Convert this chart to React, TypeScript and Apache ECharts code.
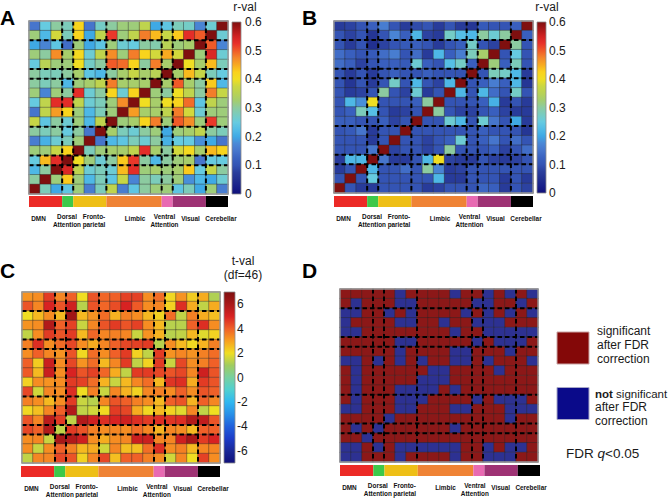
import React, { useEffect, useRef } from 'react';
import * as echarts from 'echarts';

// ---------- data ----------
const REGIONS = ['R1','R2','R3','R4','R5','R6','R7','R8','R9','R10','R11','R12','R13','R14','R15','R16','R17','R18'];

const NETWORK_NAMES = ['DMN', 'Dorsal\nAttention', 'Fronto-\nparietal', 'Limbic', 'Ventral\nAttention', 'Visual', 'Cerebellar'];
const NETWORK_SIZES = [3, 1, 3, 5, 1, 3, 2];
const NETWORK_COLORS = ['#ec2a26', '#3dc84a', '#eebf16', '#ef8335', '#e86ab2', '#9e3274', '#000000'];

const R_RANGE = [0, 0.6];
const T_RANGE = [-7, 7];
const T_TICKS = [-6, -4, -2, 0, 2, 4, 6];

// rows listed top (region 18) to bottom (region 1), columns region 1..18
const A_ROWS = [
  [0.15,0.25,0.30,0.28,0.42,0.15,0.27,0.30,0.32,0.32,0.36,0.20,0.24,0.28,0.27,0.17,0.26,0.60],
  [0.32,0.22,0.38,0.28,0.42,0.20,0.36,0.52,0.32,0.36,0.48,0.44,0.37,0.43,0.53,0.50,0.60,0.26],
  [0.20,0.17,0.24,0.14,0.32,0.20,0.24,0.32,0.26,0.25,0.30,0.29,0.35,0.32,0.33,0.60,0.50,0.17],
  [0.32,0.30,0.47,0.33,0.41,0.26,0.36,0.47,0.32,0.48,0.42,0.38,0.45,0.38,0.60,0.32,0.54,0.26],
  [0.25,0.35,0.32,0.32,0.40,0.27,0.30,0.50,0.49,0.42,0.30,0.48,0.33,0.60,0.40,0.33,0.44,0.28],
  [0.30,0.28,0.28,0.30,0.33,0.24,0.22,0.30,0.33,0.37,0.33,0.35,0.60,0.33,0.44,0.37,0.28,0.25],
  [0.30,0.28,0.30,0.22,0.32,0.33,0.36,0.48,0.33,0.33,0.33,0.60,0.33,0.50,0.33,0.30,0.43,0.22],
  [0.32,0.17,0.32,0.30,0.53,0.26,0.30,0.42,0.26,0.42,0.60,0.32,0.30,0.40,0.36,0.30,0.48,0.37],
  [0.25,0.36,0.53,0.53,0.36,0.26,0.28,0.32,0.47,0.60,0.40,0.33,0.40,0.42,0.49,0.24,0.36,0.32],
  [0.15,0.36,0.46,0.42,0.32,0.22,0.28,0.32,0.60,0.46,0.33,0.33,0.36,0.48,0.38,0.26,0.32,0.32],
  [0.37,0.24,0.30,0.26,0.32,0.22,0.36,0.60,0.32,0.33,0.42,0.48,0.32,0.50,0.47,0.32,0.52,0.32],
  [0.30,0.28,0.30,0.25,0.30,0.15,0.60,0.33,0.28,0.26,0.30,0.32,0.20,0.32,0.33,0.36,0.30,0.28],
  [0.16,0.21,0.26,0.28,0.32,0.60,0.15,0.22,0.24,0.28,0.26,0.30,0.21,0.25,0.25,0.18,0.20,0.15],
  [0.32,0.32,0.37,0.42,0.60,0.28,0.32,0.33,0.33,0.36,0.53,0.33,0.30,0.38,0.41,0.33,0.44,0.42],
  [0.25,0.44,0.53,0.60,0.40,0.32,0.26,0.30,0.43,0.52,0.30,0.22,0.30,0.32,0.33,0.15,0.25,0.25],
  [0.22,0.30,0.60,0.54,0.36,0.26,0.28,0.26,0.44,0.53,0.32,0.33,0.32,0.33,0.43,0.25,0.37,0.30],
  [0.30,0.60,0.32,0.43,0.32,0.22,0.28,0.24,0.37,0.17,0.30,0.28,0.30,0.32,0.18,0.22,0.20,0.26],
  [0.60,0.28,0.20,0.24,0.32,0.16,0.28,0.36,0.16,0.24,0.30,0.32,0.32,0.24,0.28,0.20,0.32,0.16],
];

const B_ROWS = [
  [0.07,0.08,0.10,0.12,0.16,0.10,0.07,0.09,0.10,0.07,0.10,0.07,0.06,0.11,0.10,0.10,0.12,0.60],
  [0.10,0.08,0.10,0.06,0.10,0.17,0.12,0.22,0.08,0.07,0.27,0.23,0.22,0.30,0.26,0.30,0.60,0.12],
  [0.10,0.07,0.10,0.05,0.08,0.10,0.11,0.12,0.10,0.07,0.10,0.12,0.27,0.10,0.08,0.60,0.30,0.10],
  [0.14,0.12,0.10,0.11,0.14,0.16,0.10,0.14,0.07,0.22,0.12,0.16,0.28,0.33,0.60,0.10,0.25,0.10],
  [0.14,0.12,0.08,0.10,0.12,0.12,0.11,0.26,0.12,0.10,0.23,0.27,0.12,0.60,0.32,0.12,0.28,0.10],
  [0.10,0.07,0.10,0.07,0.10,0.12,0.10,0.10,0.12,0.10,0.10,0.10,0.60,0.10,0.28,0.27,0.22,0.07],
  [0.10,0.06,0.10,0.07,0.10,0.27,0.10,0.22,0.10,0.08,0.22,0.60,0.10,0.12,0.16,0.12,0.22,0.06],
  [0.10,0.07,0.08,0.10,0.30,0.10,0.08,0.26,0.07,0.10,0.60,0.22,0.10,0.22,0.14,0.10,0.27,0.10],
  [0.10,0.22,0.18,0.40,0.10,0.10,0.10,0.12,0.30,0.60,0.10,0.10,0.10,0.12,0.21,0.07,0.10,0.07],
  [0.10,0.12,0.28,0.23,0.10,0.07,0.08,0.10,0.60,0.30,0.10,0.08,0.08,0.10,0.12,0.08,0.07,0.07],
  [0.12,0.12,0.10,0.10,0.12,0.08,0.10,0.60,0.10,0.10,0.26,0.22,0.10,0.26,0.15,0.10,0.20,0.07],
  [0.10,0.11,0.15,0.07,0.10,0.10,0.60,0.10,0.10,0.10,0.10,0.10,0.10,0.12,0.10,0.10,0.10,0.06],
  [0.10,0.10,0.10,0.07,0.10,0.60,0.10,0.10,0.08,0.10,0.12,0.26,0.10,0.12,0.15,0.10,0.14,0.10],
  [0.10,0.10,0.10,0.15,0.60,0.08,0.10,0.10,0.08,0.10,0.30,0.10,0.10,0.10,0.12,0.08,0.10,0.14],
  [0.07,0.22,0.22,0.60,0.15,0.07,0.07,0.10,0.22,0.40,0.08,0.07,0.07,0.10,0.08,0.07,0.08,0.10],
  [0.07,0.10,0.60,0.22,0.10,0.10,0.14,0.10,0.30,0.17,0.07,0.08,0.10,0.10,0.10,0.10,0.10,0.10],
  [0.10,0.60,0.10,0.25,0.10,0.10,0.10,0.10,0.10,0.22,0.07,0.07,0.10,0.10,0.10,0.07,0.10,0.07],
  [0.60,0.10,0.07,0.07,0.10,0.10,0.10,0.10,0.07,0.08,0.10,0.10,0.10,0.13,0.12,0.07,0.10,0.08],
];

const C_ROWS = [
  [3.2,3.3,4.6,3.4,4.0,2.0,4.2,3.9,4.0,4.5,4.5,3.3,3.8,2.1,3.2,2.3,2.8,1.2],
  [4.2,3.4,5.0,4.2,5.2,1.3,4.2,3.9,4.3,5.0,4.1,3.3,3.4,2.2,4.8,2.8,1.4,2.8],
  [2.0,2.6,3.3,2.6,6.2,2.6,3.2,3.8,2.7,3.5,3.3,2.6,2.2,3.8,1.4,3.5,2.8,2.5],
  [3.2,3.3,5.8,4.0,4.5,1.5,3.4,4.2,4.6,4.2,4.5,3.3,2.6,1.3,1.3,4.0,4.8,3.3],
  [1.4,3.3,4.6,4.2,4.6,2.6,3.9,3.4,3.5,3.4,1.5,3.2,2.7,1.3,1.4,2.6,1.8,2.2],
  [3.5,4.8,3.3,3.8,4.4,3.3,2.8,3.4,4.0,4.4,4.5,4.6,1.3,3.3,2.6,2.1,2.7,3.5],
  [3.3,4.0,3.4,3.2,4.2,2.1,3.8,3.3,4.0,4.6,2.2,1.4,4.6,3.2,3.4,3.2,3.5,3.8],
  [4.0,2.3,5.3,3.3,4.4,3.2,3.8,2.6,3.4,4.6,1.4,2.2,4.6,1.5,4.4,3.3,3.5,4.0],
  [4.1,2.6,5.3,3.3,5.0,4.2,4.5,3.9,2.8,1.4,4.6,4.6,4.4,4.2,4.4,3.4,5.2,4.2],
  [2.2,3.3,3.2,3.3,4.6,4.5,3.8,2.7,1.5,2.6,3.4,3.8,2.6,4.7,4.8,2.8,4.6,4.2],
  [4.4,1.6,3.4,3.3,4.8,2.0,3.5,1.5,3.4,2.7,2.2,3.4,3.5,3.3,4.0,3.3,4.2,4.0],
  [3.5,3.3,2.6,3.3,4.6,1.5,1.3,3.4,4.2,4.0,3.5,3.3,2.6,4.0,4.2,2.7,4.0,3.4],
  [2.1,2.5,3.4,4.0,5.8,1.4,1.6,2.1,4.6,4.4,2.8,2.1,2.6,2.2,1.8,3.4,1.4,2.0],
  [4.2,3.4,5.6,4.6,1.4,5.8,5.2,4.8,5.0,5.2,4.8,4.6,4.8,4.7,4.8,5.8,5.5,4.2],
  [4.4,4.0,5.8,1.4,4.6,4.2,3.5,3.3,3.4,3.3,3.8,3.4,2.7,3.4,3.3,2.6,4.0,4.0],
  [3.3,3.4,1.5,6.0,5.8,5.2,3.3,2.8,3.3,3.4,5.3,5.3,3.4,3.4,5.2,6.0,4.6,5.0],
  [3.3,1.5,3.3,4.0,3.5,2.6,2.8,1.6,3.4,2.5,2.5,3.8,4.8,3.3,3.5,2.6,3.4,3.4],
  [1.4,3.4,3.4,4.4,4.2,2.2,3.4,4.4,2.5,4.0,4.0,3.5,3.3,1.6,3.4,2.0,4.5,3.3],
];

// 1 = significant after FDR correction, 0 = not significant
const D_ROWS = [
  [1,1,1,1,1,0,1,1,1,1,0,1,1,0,1,0,1,0],
  [1,0,1,1,1,0,0,1,1,1,1,1,0,0,1,1,0,1],
  [0,0,1,1,0,1,0,1,1,1,1,0,1,0,1,0,1,0],
  [0,1,1,1,1,0,0,1,1,0,1,1,0,0,0,1,1,1],
  [0,0,1,1,1,1,1,1,1,1,0,1,1,0,0,0,0,0],
  [1,1,1,1,1,0,0,1,1,1,1,1,0,1,0,0,0,1],
  [1,1,1,1,1,0,1,1,1,1,0,0,1,1,1,0,1,1],
  [0,0,1,0,1,0,1,0,1,1,0,0,1,0,1,1,1,0],
  [1,0,1,1,1,1,1,1,0,0,1,1,1,1,0,1,1,1],
  [1,0,1,1,1,1,1,0,0,0,1,1,1,1,1,1,1,1],
  [1,0,1,1,1,0,0,0,0,1,0,1,1,1,1,1,1,1],
  [1,0,1,1,1,0,0,0,1,1,1,1,0,1,0,0,0,1],
  [0,0,1,1,1,0,0,1,1,1,0,0,1,1,1,0,0,0],
  [1,1,1,1,0,1,1,1,1,1,1,1,1,1,1,0,1,1],
  [1,0,1,0,1,1,1,1,1,1,0,1,1,1,1,1,1,1],
  [1,1,0,1,1,1,1,1,1,1,1,1,1,1,1,1,1,1],
  [0,0,1,0,1,0,0,0,0,0,0,1,1,0,1,0,0,1],
  [0,0,1,1,1,0,1,1,1,1,0,1,1,0,0,0,1,1],
];

// ---------- styles ----------
const PALETTE_R = ['#10107a','#18208a','#223090','#2a3e9c','#3454b4','#3a62c0','#4675cc','#4a88d6','#3fa9e5','#52bce6','#66cbe0','#78ccc0','#8ccba0','#a3cd70','#b8d255','#cad742','#f0de22','#fad21c','#f8aa20','#f4862a','#f05a28','#e8302a','#d02222','#a81818','#7f0f0f'];
const PALETTE_T = ['#10107a','#1a2898','#1c3cc8','#2060dc','#2890e8','#30b8f0','#50d0d0','#78d0a0','#a0cc60','#f0de22','#f8a020','#f06028','#d82222','#a81818','#7f0f0f'];
const SIG_COLOR = '#8c1818';
const NONSIG_COLOR = '#2d3192';

const FONT = '"Liberation Sans", Arial, Helvetica, sans-serif';
const NET_LABEL_DX = [9.5, 38, 65, 106, 135.5, 161.5, 192];

const PANELS: any[] = [
  { key: 'A', rows: A_ROWS, kind: 'r', title: { x: 0, y: 17.5 }, unit: ['r-val'], unitPos: [245, 7],
    heat: { left: 29, top: 21, width: 199, height: 173 }, strip: { left: 29, top: 196, width: 199, height: 11 },
    cbar: { left: 232, top: 22, width: 9, height: 172 }, cbarMargin: 4 },
  { key: 'B', rows: B_ROWS, kind: 'r', title: { x: 302, y: 17.5 }, unit: ['r-val'], unitPos: [547, 7],
    heat: { left: 334, top: 21, width: 199, height: 172 }, strip: { left: 334, top: 196, width: 199, height: 11 },
    cbar: { left: 537, top: 22, width: 9, height: 171 }, cbarMargin: 3 },
  { key: 'C', rows: C_ROWS, kind: 't', title: { x: 0, y: 270.5 }, unit: ['t-val', '(df=46)'], unitPos: [243, 261],
    heat: { left: 22, top: 292, width: 198, height: 171 }, strip: { left: 21, top: 466, width: 199, height: 11 },
    cbar: { left: 224, top: 292, width: 11, height: 171 }, cbarMargin: 2 },
  { key: 'D', rows: D_ROWS, kind: 'sig', title: { x: 302, y: 270.5 },
    heat: { left: 340, top: 289, width: 198, height: 173 }, strip: { left: 340, top: 465, width: 200, height: 11 } },
];

function toCells(rows: number[][]) {
  const n = rows.length;
  const out: any[] = [];
  rows.forEach((row, r) => row.forEach((v, c) => out.push([c, n - 1 - r, v])));
  return out;
}

function buildOption() {
  const boundaries: number[] = [];
  const segments: number[][] = [];
  let acc = 0;
  NETWORK_SIZES.forEach((s, i) => {
    segments.push([acc, acc + s, i]);
    acc += s;
    if (i < NETWORK_SIZES.length - 1) boundaries.push(acc);
  });
  const total = acc;

  const grids: any[] = [];
  const xAxes: any[] = [];
  const yAxes: any[] = [];
  const series: any[] = [];
  const graphics: any[] = [];
  const rIdx: number[] = [];
  const tIdx: number[] = [];
  const sIdx: number[] = [];

  const dashed = (params: any, api: any) => {
    const b = api.value(0);
    const cs = params.coordSys;
    const bw = cs.width / REGIONS.length;
    const bh = cs.height / REGIONS.length;
    const x = api.coord([b, 0])[0] - bw / 2;
    const y = api.coord([0, b])[1] + bh / 2;
    const st = { stroke: '#000', lineWidth: 2, lineDash: [4.5, 3] };
    return {
      type: 'group',
      children: [
        { type: 'line', shape: { x1: x, y1: cs.y, x2: x, y2: cs.y + cs.height }, style: st },
        { type: 'line', shape: { x1: cs.x, y1: y, x2: cs.x + cs.width, y2: y }, style: st },
      ],
    };
  };
  const frame = (params: any) => {
    const cs = params.coordSys;
    return { type: 'rect', shape: { x: cs.x, y: cs.y, width: cs.width, height: cs.height }, style: { fill: 'none', stroke: '#9a9a9a', lineWidth: 1.3 } };
  };
  const strip = (params: any, api: any) => {
    const p0 = api.coord([api.value(0), 1]);
    const p1 = api.coord([api.value(1), 0]);
    return { type: 'rect', shape: { x: p0[0], y: p0[1], width: p1[0] - p0[0], height: p1[1] - p0[1] }, style: { fill: NETWORK_COLORS[api.value(2)] } };
  };
  const makeBar = (palette: string[]) => (params: any, api: any) => {
    const top = api.coord([0, api.value(2)]);
    const bot = api.coord([0, api.value(1)]);
    const cs = params.coordSys;
    const stops = palette.map((c, i) => ({ offset: i / (palette.length - 1), color: c }));
    return {
      type: 'rect',
      shape: { x: cs.x, y: top[1], width: cs.width, height: bot[1] - top[1] },
      style: { fill: new echarts.graphic.LinearGradient(0, 1, 0, 0, stops), stroke: '#8a8a8a', lineWidth: 0.8 },
    };
  };

  PANELS.forEach((p) => {
    // heatmap grid
    const g = grids.length;
    grids.push({ ...p.heat });
    xAxes.push({ type: 'category', gridIndex: g, data: REGIONS, show: false });
    yAxes.push({ type: 'category', gridIndex: g, data: REGIONS, show: false });
    const hi = series.length;
    series.push({
      type: 'heatmap', xAxisIndex: g, yAxisIndex: g, data: toCells(p.rows), progressive: 0,
      itemStyle: { borderColor: 'rgba(40,40,40,0.5)', borderWidth: 0.8 }, emphasis: { disabled: true },
    });
    if (p.kind === 'r') rIdx.push(hi); else if (p.kind === 't') tIdx.push(hi); else sIdx.push(hi);
    series.push({ type: 'custom', xAxisIndex: g, yAxisIndex: g, data: boundaries.map((b) => [b, b]), renderItem: dashed, z: 5, silent: true });
    series.push({ type: 'custom', xAxisIndex: g, yAxisIndex: g, data: [[0, 0]], renderItem: frame, z: 6, silent: true });

    // network strip
    const s = grids.length;
    grids.push({ ...p.strip });
    xAxes.push({ type: 'value', gridIndex: s, min: 0, max: total, show: false });
    yAxes.push({ type: 'value', gridIndex: s, min: 0, max: 1, show: false });
    series.push({ type: 'custom', xAxisIndex: s, yAxisIndex: s, data: segments, renderItem: strip, silent: true });

    // network labels
    const bottom = p.strip.top + p.strip.height;
    const scale = p.heat.width / 199;
    NETWORK_NAMES.forEach((name, i) => {
      const lines = name.split('\n');
      const x = p.heat.left + NET_LABEL_DX[i] * scale;
      const ys = lines.length === 1 ? [bottom + 11.7] : [bottom + 8.8, bottom + 17.5];
      lines.forEach((ln, k) => {
        graphics.push({ type: 'text', x, y: ys[k], scaleX: 0.8, silent: true,
          style: { text: ln, fontSize: 8, fontWeight: 'bold', fontFamily: FONT, fill: '#111', align: 'center', verticalAlign: 'middle' } });
      });
    });

    // panel letter
    graphics.push({ type: 'text', x: p.title.x, y: p.title.y, silent: true,
      style: { text: p.key, fontSize: 21, fontWeight: 'bold', fontFamily: FONT, fill: '#000', align: 'left', verticalAlign: 'middle' } });

    // colour bar
    if (p.cbar) {
      const c = grids.length;
      grids.push({ ...p.cbar });
      xAxes.push({ type: 'category', gridIndex: c, data: ['bar'], show: false });
      const range = p.kind === 'r' ? R_RANGE : T_RANGE;
      const yAxis: any = {
        type: 'value', gridIndex: c, position: 'right', min: range[0], max: range[1],
        axisLine: { show: false }, axisTick: { show: false }, splitLine: { show: false },
        axisLabel: { show: true, fontSize: 12, fontFamily: FONT, color: '#1a1a1a', margin: p.cbarMargin },
      };
      if (p.kind === 'r') {
        yAxis.interval = 0.1;
        yAxis.axisLabel.formatter = (v: number) => (v === 0 ? '0' : v.toFixed(1));
      } else {
        yAxis.axisLabel.customValues = T_TICKS;
        yAxis.axisTick.customValues = T_TICKS;
      }
      yAxes.push(yAxis);
      series.push({ type: 'custom', xAxisIndex: c, yAxisIndex: c, data: [[0, range[0], range[1]]],
        renderItem: makeBar(p.kind === 'r' ? PALETTE_R : PALETTE_T), silent: true });

      p.unit.forEach((u: string, k: number) => {
        graphics.push({ type: 'text', x: p.unitPos[0], y: p.unitPos[1] + k * 14, silent: true,
          style: { text: u, fontSize: 12, fontFamily: FONT, fill: '#1a1a1a', align: 'center', verticalAlign: 'middle' } });
      });
    }
  });

  // legend for D
  const legendText = (x: number, y: number, text: string, rich?: any, size = 12) => ({
    type: 'text', x, y, silent: true,
    style: { text, rich, fontSize: size, fontFamily: FONT, fill: '#1a1a1a', align: 'left', verticalAlign: 'middle' },
  });
  graphics.push({ type: 'rect', shape: { x: 557, y: 332, width: 32, height: 32 }, style: { fill: '#840808', stroke: '#c9a4a4', lineWidth: 1 }, silent: true });
  graphics.push({ type: 'rect', shape: { x: 557, y: 387.5, width: 32, height: 32 }, style: { fill: '#0a0a8a', stroke: '#a8a8c8', lineWidth: 1 }, silent: true });
  graphics.push(legendText(597, 331, 'significant'));
  graphics.push(legendText(597, 345, 'after FDR'));
  graphics.push(legendText(597, 358.5, 'correction'));
  graphics.push(legendText(595, 393.5, '{b|not} significant', { b: { fontWeight: 'bold', fontSize: 11.5, fontFamily: FONT, fill: '#1a1a1a' } }, 11.5));
  graphics.push(legendText(595, 407, 'after FDR'));
  graphics.push(legendText(595, 420.5, 'correction'));
  graphics.push(legendText(566, 453.5, 'FDR {i|q}<0.05', { i: { fontStyle: 'italic', fontSize: 13.5, fontFamily: FONT, fill: '#1a1a1a' } }, 13.5));

  return {
    animation: false,
    backgroundColor: '#ffffff',
    grid: grids,
    xAxis: xAxes,
    yAxis: yAxes,
    visualMap: [
      { type: 'continuous', show: false, dimension: 2, min: R_RANGE[0], max: R_RANGE[1], seriesIndex: rIdx, inRange: { color: PALETTE_R } },
      { type: 'continuous', show: false, dimension: 2, min: T_RANGE[0], max: T_RANGE[1], seriesIndex: tIdx, inRange: { color: PALETTE_T } },
      { type: 'piecewise', show: false, dimension: 2, seriesIndex: sIdx, pieces: [{ value: 1, color: SIG_COLOR }, { value: 0, color: NONSIG_COLOR }] },
    ],
    series,
    graphic: graphics,
  };
}

export default function App() {
  const ref = useRef<HTMLDivElement>(null);
  useEffect(() => {
    if (!ref.current) return;
    const chart = echarts.init(ref.current, null, { renderer: 'svg' });
    chart.setOption(buildOption() as any);
    return () => chart.dispose();
  }, []);
  return <div ref={ref} style={{ position: 'fixed', left: 0, top: 0, width: 668, height: 498, background: '#fff' }} />;
}
